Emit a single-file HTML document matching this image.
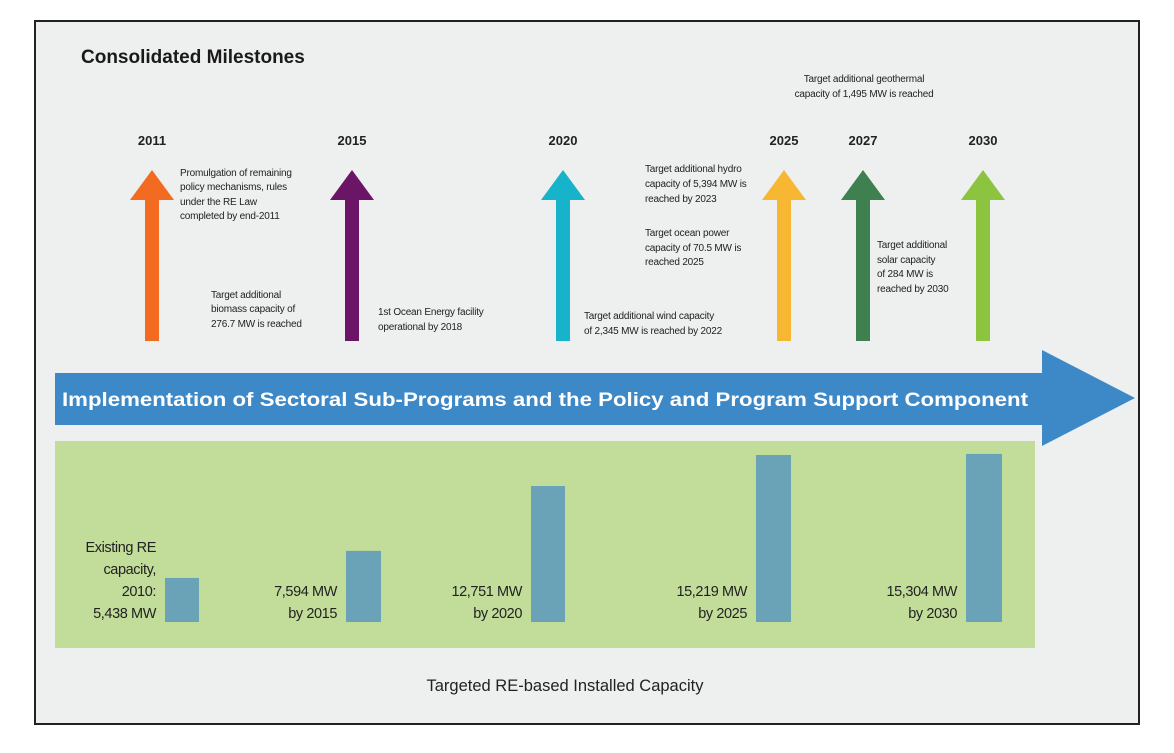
<!DOCTYPE html>
<html><head><meta charset="utf-8"><style>
html,body{margin:0;padding:0;background:#fff;}
svg{display:block;font-family:"Liberation Sans",sans-serif;}
.ann{font-family:"Liberation Sans Narrow","Liberation Sans",sans-serif;font-size:10px;fill:#222;letter-spacing:-0.2px;}
.yr{font-size:13px;font-weight:bold;fill:#222;}
.bl{font-family:"Liberation Sans Narrow","Liberation Sans",sans-serif;font-size:14.5px;fill:#222;letter-spacing:-0.4px;}
</style></head><body>
<svg id="chart" width="1174" height="753" viewBox="0 0 1174 753" xmlns="http://www.w3.org/2000/svg">
<rect x="35" y="21" width="1104" height="703" fill="#eeefef" stroke="#222" stroke-width="2"/>
<text x="81" y="63" font-size="19" font-weight="bold" fill="#1a1a1a">Consolidated Milestones</text>
<g id="milestones"></g>
<g>
<text class="ann"><tspan x="180" y="176">Promulgation of remaining</tspan><tspan x="180" y="190">policy mechanisms, rules</tspan><tspan x="180" y="205">under the RE Law</tspan><tspan x="180" y="219">completed by end-2011</tspan></text>
<text class="ann"><tspan x="211" y="298">Target additional</tspan><tspan x="211" y="312">biomass capacity of</tspan><tspan x="211" y="327">276.7 MW is reached</tspan></text>
<text class="ann"><tspan x="378" y="315">1st Ocean Energy facility</tspan><tspan x="378" y="330">operational by 2018</tspan></text>
<text class="ann"><tspan x="584" y="319">Target additional wind capacity</tspan><tspan x="584" y="334">of 2,345 MW is reached by 2022</tspan></text>
<text class="ann"><tspan x="645" y="172">Target additional hydro</tspan><tspan x="645" y="187">capacity of 5,394 MW is</tspan><tspan x="645" y="202">reached by 2023</tspan></text>
<text class="ann"><tspan x="645" y="236">Target ocean power</tspan><tspan x="645" y="251">capacity of 70.5 MW is</tspan><tspan x="645" y="265">reached 2025</tspan></text>
<text class="ann"><tspan x="877" y="248">Target additional</tspan><tspan x="877" y="263">solar capacity</tspan><tspan x="877" y="277">of 284 MW is</tspan><tspan x="877" y="292">reached by 2030</tspan></text>
<text class="ann" text-anchor="middle"><tspan x="864" y="82">Target additional geothermal</tspan><tspan x="864" y="97">capacity of 1,495 MW is reached</tspan></text>
</g>
<polygon points="55,373 1042,373 1042,350 1135,398 1042,446 1042,425 55,425" fill="#3d89c8"/>
<text x="62" y="406" font-size="19.5" font-weight="bold" fill="#fff" textLength="966" lengthAdjust="spacingAndGlyphs">Implementation of Sectoral Sub-Programs and the Policy and Program Support Component</text>
<rect x="55" y="441" width="980" height="207" fill="#c2dc9a"/>
<g id="bars"></g>
<text x="565" y="691" font-size="16.5" text-anchor="middle" fill="#222">Targeted RE-based Installed Capacity</text>
</svg>
<script>
const years = ["2011","2015","2020","2025","2027","2030"];
const yearX = [152,352,563,784,863,983];
const arrowColors = ["#f26b21","#6b1566","#16b3cb","#f7b733","#3f8050","#8dc43f"];
const capValues = [5438,7594,12751,15219,15304];
const capLabels = [["Existing RE","capacity,","2010:","5,438 MW"],["7,594 MW","by 2015"],["12,751 MW","by 2020"],["15,219 MW","by 2025"],["15,304 MW","by 2030"]];
const barX = [165,346,531,756,966];
const barW = [34,35,34,35,36];
const NS = "http://www.w3.org/2000/svg";
const baseY = 622;
function yScale(v){ return baseY - (v * 0.01257 - 24.3); }
const mg = document.getElementById('milestones');
years.forEach((y,i)=>{
  const cx = yearX[i];
  const t = document.createElementNS(NS,'text');
  
  
  t.setAttribute('x',cx); t.setAttribute('y',145); t.setAttribute('text-anchor','middle');
  t.setAttribute('class','yr'); t.textContent = y; mg.appendChild(t);
  const p = document.createElementNS(NS,'polygon');
  
  
  p.setAttribute('points',`${cx},170 ${cx+22},200 ${cx+7},200 ${cx+7},341 ${cx-7},341 ${cx-7},200 ${cx-22},200`);
  p.setAttribute('fill',arrowColors[i]); mg.appendChild(p);
});
const bg = document.getElementById('bars');
capValues.forEach((v,i)=>{
  const top = yScale(v);
  const r = document.createElementNS(NS,'rect');
  
  
  r.setAttribute('x',barX[i]); r.setAttribute('y',top);
  r.setAttribute('width',barW[i]); r.setAttribute('height',baseY-top);
  r.setAttribute('fill','#6aa3b8'); bg.appendChild(r);
  const lines = capLabels[i];
  const t = document.createElementNS(NS,'text');
  
  
  t.setAttribute('class','bl'); t.setAttribute('text-anchor','end');
  lines.forEach((ln,j)=>{
    const s = document.createElementNS(NS,'tspan');
    s.setAttribute('x',barX[i]-9);
    s.setAttribute('y',618 - (lines.length-1-j)*22);
    s.textContent = ln; t.appendChild(s);
  });
  bg.appendChild(t);
});
</script>
</body></html>
